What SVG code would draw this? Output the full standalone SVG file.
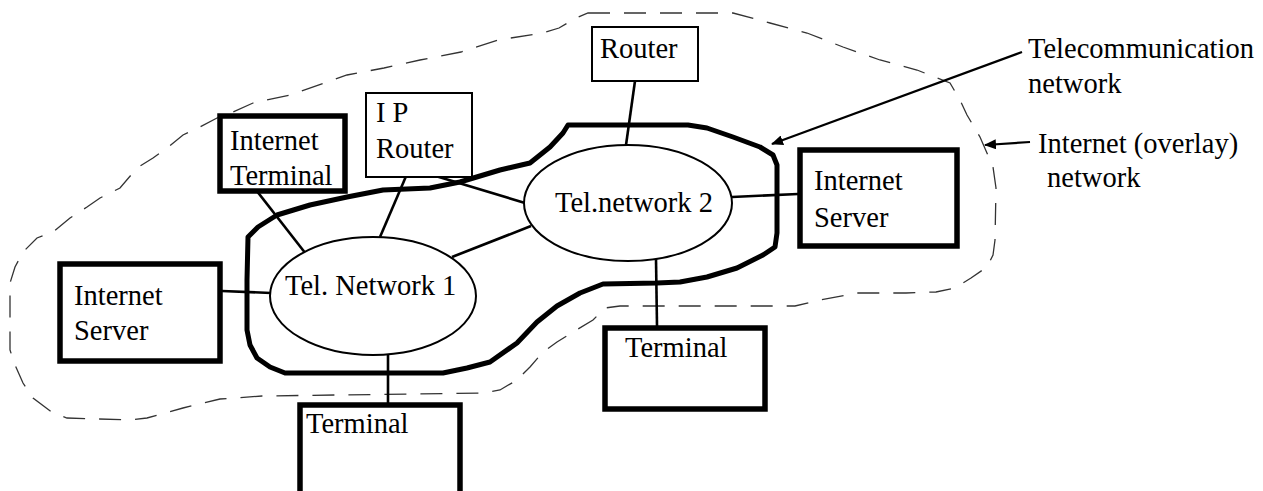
<svg xmlns="http://www.w3.org/2000/svg" width="1263" height="491" viewBox="0 0 1263 491">
<style>
text{font-family:"Liberation Serif","Times New Roman",serif;font-size:28.5px;fill:#000}
.thick{fill:#fff;stroke:#000;stroke-width:5.5}
.thin{fill:#fff;stroke:#000;stroke-width:2}
.ell{fill:#fff;stroke:#000;stroke-width:2}
.con{stroke:#000;stroke-width:2.6;fill:none}
.arr{stroke:#000;stroke-width:2.2;fill:none;marker-end:url(#ah)}
.blob{fill:none;stroke:#000;stroke-width:5;stroke-linejoin:round}
.inet{fill:none;stroke:#333;stroke-width:1.3;stroke-dasharray:22 14}
</style>
<defs>
<marker id="ah" viewBox="0 0 12 10" refX="11" refY="5" markerWidth="12" markerHeight="10" markerUnits="userSpaceOnUse" orient="auto">
<path d="M0,0 L12,5 L0,10 z" fill="#000"/>
</marker>
</defs>
<rect width="1263" height="491" fill="#fff"/>
<g id="internet-boundary">
<path class="inet" d="M588,13 L733,13 L770,23 L807,33 L843,47 L880,60 L917,70 L950,83 L960,100 L967,115 L980,137 L993,167 L996,188 L995,240 L993,255 L987,267 L971,278 L955,288 L936,292 L906,293 L857,293 L820,300 L795,306 L620,306 L605,308 L593,320 L573,332 L557,342 L543,352 L530,367 L517,380 L500,390 L483,393 L262,396 L220,399 L183,408 L147,418 L130,420 L67,418 L53,413 L33,398 L23,383 L15,365 L10,350 L10,283 L15,267 L23,252 L37,238 L53,232 L70,218 L87,207 L100,198 L120,188 L137,168 L153,158 L167,148 L183,135 L200,127 L217,118 L233,112 L253,103 L290,95 L347,75 L384,68 L420,60 L461,52 L498,40 L543,33 L559,28 L576,18 Z"/>
</g>
<g id="telecom-boundary">
<path class="blob" d="M568,125 L688,125 L707,128 L733,137 L760,147 L773,155 L777,165 L777,233 L775,247 L763,255 L737,268 L707,277 L680,282 L657,283 L603,284 L580,293 L557,306 L537,322 L517,343 L490,362 L467,368 L443,373 L285,373 L270,367 L257,358 L250,345 L247,330 L247,280 L248,237 L258,227 L277,215 L310,205 L347,197 L383,190 L430,188 L460,182 L500,170 L530,163 L550,147 L563,133 Z"/>
</g>
<g id="connectors">
<line class="con" x1="635" y1="81" x2="626" y2="145"/>
<line class="con" x1="253" y1="186" x2="306" y2="254"/>
<line class="con" x1="407" y1="174" x2="380" y2="237"/>
<line class="con" x1="429" y1="174" x2="525" y2="203"/>
<line class="con" x1="452" y1="257" x2="531" y2="226"/>
<line class="con" x1="222" y1="291" x2="271" y2="293"/>
<line class="con" x1="388" y1="355" x2="388" y2="403"/>
<line class="con" x1="656" y1="259" x2="657" y2="326"/>
<line class="con" x1="732" y1="197" x2="798" y2="194"/>
<line class="arr" x1="1022" y1="52" x2="772" y2="144"/>
<line class="arr" x1="1030" y1="142" x2="985" y2="145"/>
</g>
<g id="tel-network-1">
<ellipse class="ell" cx="373" cy="296" rx="103" ry="59"/>
<text x="285" y="295">Tel. Network 1</text>
</g>
<g id="tel-network-2">
<ellipse class="ell" cx="628" cy="203" rx="104" ry="58"/>
<text x="555" y="212">Tel.network 2</text>
</g>
<g id="router">
<rect class="thin" x="592" y="27" width="106" height="54"/>
<text x="600" y="58">Router</text>
</g>
<g id="ip-router">
<rect class="thin" x="366" y="93" width="106" height="84"/>
<text x="376" y="122">I P</text>
<text x="376" y="158">Router</text>
</g>
<g id="internet-terminal">
<rect class="thick" x="220" y="116" width="125" height="75"/>
<text x="230" y="150">Internet</text>
<text x="230" y="185">Terminal</text>
</g>
<g id="internet-server-left">
<rect class="thick" x="60" y="264" width="160" height="97"/>
<text x="74" y="305">Internet</text>
<text x="74" y="340">Server</text>
</g>
<g id="internet-server-right">
<rect class="thick" x="800" y="150" width="157" height="96"/>
<text x="814" y="190">Internet</text>
<text x="814" y="227">Server</text>
</g>
<g id="terminal-right">
<rect class="thick" x="605" y="328" width="160" height="81"/>
<text x="625" y="357">Terminal</text>
</g>
<g id="terminal-bottom">
<rect class="thick" x="300" y="405" width="160" height="100"/>
<text x="306" y="433">Terminal</text>
</g>
<g id="labels">
<text x="1028" y="58">Telecommunication</text>
<text x="1028" y="93">network</text>
<text x="1038" y="153">Internet (overlay)</text>
<text x="1047" y="187">network</text>
</g>
</svg>
